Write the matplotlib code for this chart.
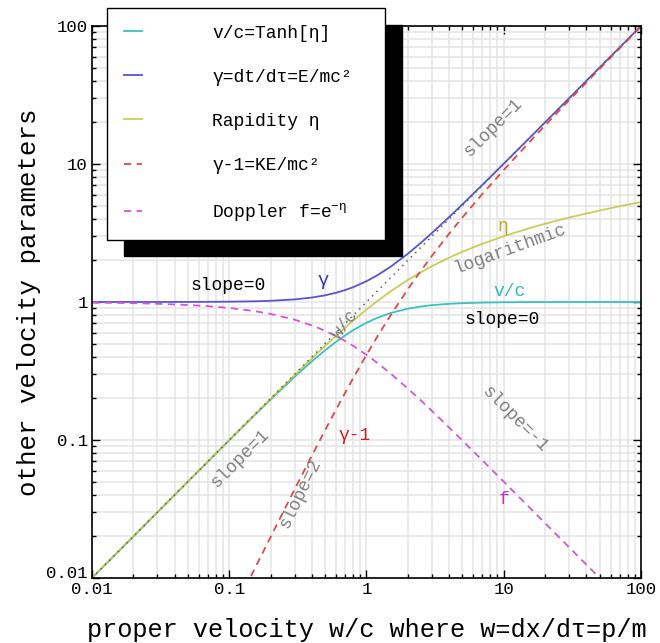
import matplotlib
matplotlib.use('Agg')
import matplotlib.pyplot as plt
from matplotlib.ticker import LogLocator, NullFormatter

plt.rcParams['font.family'] = ['Liberation Mono', 'DejaVu Sans']
plt.rcParams['mathtext.fontset'] = 'custom'
plt.rcParams['mathtext.rm'] = 'Liberation Mono'
plt.rcParams['mathtext.it'] = 'Liberation Mono'

# proper velocity w/c (sample points)
w = [0.01, 0.02, 0.03, 0.05, 0.07, 0.1, 0.15, 0.2, 0.3, 0.4, 0.5, 0.6, 0.7, 0.8,
     1.0, 1.2, 1.5, 2.0, 2.5, 3.0, 4.0, 5.0, 7.0, 10, 15, 20, 30, 50, 70, 100]

v_over_c = [0.0099995, 0.019996, 0.029987, 0.049938, 0.069829, 0.099504, 0.14834,
            0.196116, 0.287348, 0.371391, 0.447214, 0.514496, 0.573462, 0.624695,
            0.707107, 0.768221, 0.83205, 0.894427, 0.928477, 0.948683, 0.970143,
            0.980581, 0.989949, 0.995037, 0.997785, 0.998752, 0.999445, 0.9998,
            0.999898, 0.99995]

gamma = [1.00005, 1.0002, 1.00045, 1.00125, 1.00245, 1.00499, 1.01119, 1.0198,
         1.04403, 1.07703, 1.11803, 1.16619, 1.22066, 1.28062, 1.41421, 1.56205,
         1.80278, 2.23607, 2.69258, 3.16228, 4.12311, 5.09902, 7.07107, 10.04988,
         15.0333, 20.02498, 30.01666, 50.01, 70.00714, 100.005]

rapidity = [0.0099998, 0.019999, 0.029996, 0.049979, 0.069943, 0.099834, 0.149443,
            0.19869, 0.295673, 0.390035, 0.481212, 0.568825, 0.652667, 0.732668,
            0.881374, 1.015973, 1.194763, 1.443635, 1.647231, 1.818446, 2.094713,
            2.312438, 2.644121, 2.998223, 3.402307, 3.689504, 4.094622, 4.60527,
            4.941693, 5.298342]

kinetic = [5.0e-5, 2.0e-4, 4.5e-4, 1.25e-3, 2.45e-3, 4.99e-3, 0.01119, 0.0198,
           0.04403, 0.07703, 0.11803, 0.16619, 0.22066, 0.28062, 0.41421, 0.56205,
           0.80278, 1.23607, 1.69258, 2.16228, 3.12311, 4.09902, 6.07107, 9.04988,
           14.0333, 19.02498, 29.01666, 49.01, 69.00714, 99.005]

doppler = [0.99005, 0.9802, 0.97045, 0.95125, 0.93245, 0.90499, 0.86119, 0.8198,
           0.74403, 0.67703, 0.61803, 0.56619, 0.52066, 0.48062, 0.41421, 0.36205,
           0.30278, 0.23607, 0.19258, 0.16228, 0.12311, 0.09902, 0.07107, 0.04988,
           0.0333, 0.02498, 0.01666, 0.01, 0.00714, 0.005]

ticks = [0.01, 0.1, 1, 10, 100]
tick_labels = ['0.01', '0.1', '1', '10', '100']

fig = plt.figure(figsize=(6.6, 6.43), dpi=100)
ax = fig.add_axes([0.1394, 0.1011, 0.8318, 0.8585])

ax.plot(w, v_over_c, color='#3cc0c0', lw=1.3, label='v/c=Tanh[η]')
ax.plot(w, gamma, color='#5555d5', lw=1.3, label='γ=dt/dτ=E/mc²')
ax.plot(w, rapidity, color='#c4c43c', lw=1.3, alpha=0.85, label='Rapidity η')
ax.plot(w, kinetic, color='#e04848', lw=1.3, ls=(0, (4, 3)), label='γ-1=KE/mc²')
ax.plot(w, doppler, color='#d455d8', lw=1.3, ls=(0, (4, 3)),
        label=r'Doppler f=$\mathregular{e^{-\eta}}$')
ax.plot(w, w, color='#606060', lw=1.1, ls=(0, (1, 3)))

ax.set_xscale('log')
ax.set_yscale('log')
ax.set_xlim(0.01, 100)
ax.set_ylim(0.01, 100)
ax.set_xticks(ticks, tick_labels)
ax.set_yticks(ticks, tick_labels)
for axis in (ax.xaxis, ax.yaxis):
    axis.set_minor_locator(LogLocator(base=10, subs=range(2, 10)))
    axis.set_minor_formatter(NullFormatter())
ax.tick_params(which='both', direction='in', top=True, right=True, labelsize=12.5,
               width=1.0, pad=3)
ax.tick_params(which='major', length=6)
ax.tick_params(which='minor', length=3)
ax.yaxis.get_majorticklabels()[0].set_verticalalignment('baseline')
ax.grid(which='both', color='#e6e6e6', lw=1.2)
ax.set_axisbelow(True)
for s in ax.spines.values():
    s.set_linewidth(1.2)

ax.set_xlabel('proper velocity w/c where w=dx/dτ=p/m', fontsize=18.2, labelpad=15)
ax.set_ylabel('other velocity parameters', fontsize=18.5, labelpad=4)

# curve annotations
ax.text(0.098, 1.31, 'slope=0', fontsize=13, color='black', ha='center', va='center')
ax.text(9.7, 0.75, 'slope=0', fontsize=13, color='black', ha='center', va='center')
ax.text(0.48, 1.42, 'γ', fontsize=13.5, color='#3030c0', ha='center', va='center')
ax.text(11.1, 1.2, 'v/c', fontsize=13, color='#30b8b8', ha='center', va='center')
ax.text(9.9, 3.5, 'η', fontsize=13, color='#b0b020', ha='center', va='center')
ax.text(0.82, 0.107, 'γ-1', fontsize=13, color='#cc2020', ha='center', va='center')
ax.text(10, 0.037, 'f', fontsize=13, color='#c030c0', ha='center', va='center')
ax.text(0.70, 0.69, 'w/c', fontsize=13, color='#808080', rotation=52,
        ha='center', va='center')
ax.text(11.1, 2.42, 'logarithmic', fontsize=13, color='#808080', rotation=20,
        ha='center', va='center')
ax.text(8.4, 18.5, 'slope=1', fontsize=13, color='#808080', rotation=45,
        ha='center', va='center')
ax.text(0.12, 0.073, 'slope=1', fontsize=13, color='#808080', rotation=45,
        ha='center', va='center')
ax.text(0.33, 0.041, 'slope=2', fontsize=13, color='#808080', rotation=64,
        ha='center', va='center')
ax.text(12, 0.142, 'slope=-1', fontsize=13, color='#808080', rotation=-45,
        ha='center', va='center')

leg_w = 278 / 660
leg_h = 229 / 643
leg = ax.legend(loc='upper left',
                bbox_to_anchor=(107 / 660, 1 - 8 / 643 - leg_h, leg_w, leg_h),
                bbox_transform=fig.transFigure, mode='expand', fontsize=13,
                frameon=True, fancybox=False, framealpha=1, edgecolor='black',
                handlelength=1.0, handletextpad=3.9, labelspacing=1.5,
                borderpad=0.92, borderaxespad=0,
                shadow={'color': 'black', 'alpha': 1, 'ox': 12, 'oy': -12})
leg.get_frame().set_linewidth(1.0)

fig.savefig('out.png', dpi=100)
